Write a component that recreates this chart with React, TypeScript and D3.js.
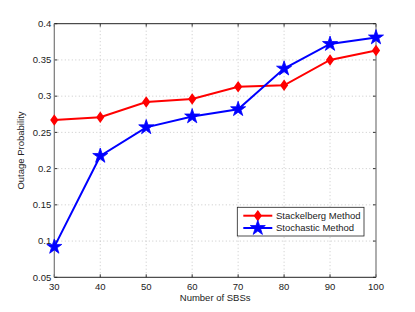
import * as d3 from "d3";

const xValues = [30, 40, 50, 60, 70, 80, 90, 100];
const stackelberg = [0.267, 0.271, 0.292, 0.296, 0.313, 0.315, 0.35, 0.363];
const stochastic = [0.092, 0.2175, 0.257, 0.272, 0.282, 0.338, 0.372, 0.381];
const xTicks = [30, 40, 50, 60, 70, 80, 90, 100];
const yTicks = [0.05, 0.1, 0.15, 0.2, 0.25, 0.3, 0.35, 0.4];
const seriesNames = ["Stackelberg Method", "Stochastic Method"];

export default function App() {
  const width = 415;
  const height = 312;
  const margin = { top: 23.7, right: 39, bottom: 34.7, left: 54.3 };
  const boundsWidth = width - margin.left - margin.right;
  const boundsHeight = height - margin.top - margin.bottom;

  const xScale = d3.scaleLinear().domain([30, 100]).range([0, boundsWidth]);
  const yScale = d3.scaleLinear().domain([0.05, 0.4]).range([boundsHeight, 0]);

  const line = d3
    .line<number>()
    .x((_, i) => xScale(xValues[i]))
    .y((d) => yScale(d));

  const star = d3.symbol(d3.symbolStar, 70)();
  const diamond = "M0,-4.5L3.2,0L0,4.5L-3.2,0Z";

  const font = "'Liberation Sans', Arial, sans-serif";
  const fs = 9.5;
  const legendX = 237.3 - margin.left;
  const legendY = 207.3 - margin.top;

  return (
    <div style={{ position: "absolute", left: 0, top: 0 }}>
      <svg width={width} height={height} style={{ display: "block", background: "#fff" }}>
        <g transform={`translate(${margin.left},${margin.top})`}>
          {/* grid */}
          {xTicks.slice(1, -1).map((t) => (
            <line key={"gx" + t} x1={xScale(t)} x2={xScale(t)} y1={0} y2={boundsHeight}
              stroke="#bbb" strokeWidth={0.8} strokeDasharray="1,2.5" />
          ))}
          {yTicks.slice(1, -1).map((t) => (
            <line key={"gy" + t} x1={0} x2={boundsWidth} y1={yScale(t)} y2={yScale(t)}
              stroke="#bbb" strokeWidth={0.8} strokeDasharray="1,2.5" />
          ))}
          {/* ticks inward */}
          {xTicks.map((t) => (
            <g key={"tx" + t}>
              <line x1={xScale(t)} x2={xScale(t)} y1={boundsHeight} y2={boundsHeight - 3} stroke="#333" />
              <line x1={xScale(t)} x2={xScale(t)} y1={0} y2={3} stroke="#333" />
              <text x={xScale(t)} y={boundsHeight + 12.5} textAnchor="middle" fontSize={fs}
                fontFamily={font} fill="#222">{t}</text>
            </g>
          ))}
          {yTicks.map((t) => (
            <g key={"ty" + t}>
              <line x1={0} x2={3} y1={yScale(t)} y2={yScale(t)} stroke="#333" />
              <line x1={boundsWidth} x2={boundsWidth - 3} y1={yScale(t)} y2={yScale(t)} stroke="#333" />
              <text x={-3} y={yScale(t) + 3.3} textAnchor="end" fontSize={fs}
                fontFamily={font} fill="#222">{String(t)}</text>
            </g>
          ))}
          {/* frame */}
          <line x1={0} x2={boundsWidth} y1={0} y2={0} stroke="#222" strokeWidth={1} />
          <line x1={0} x2={boundsWidth} y1={boundsHeight} y2={boundsHeight} stroke="#222" strokeWidth={1} />
          <line x1={0} x2={0} y1={0} y2={boundsHeight} stroke="#777" strokeWidth={1.2} />
          <line x1={boundsWidth} x2={boundsWidth} y1={0} y2={boundsHeight} stroke="#777" strokeWidth={1.2} />

          {/* series */}
          <path d={line(stackelberg) || ""} fill="none" stroke="#ff0000" strokeWidth={2} />
          {stackelberg.map((v, i) => (
            <path key={"r" + i} d={diamond} transform={`translate(${xScale(xValues[i])},${yScale(v)})`}
              fill="#ff0000" stroke="#ff0000" strokeWidth={1.5} />
          ))}
          <path d={line(stochastic) || ""} fill="none" stroke="#0000ff" strokeWidth={2} />
          {stochastic.map((v, i) => (
            <path key={"b" + i} d={star} transform={`translate(${xScale(xValues[i])},${yScale(v)})`}
              fill="#0000ff" stroke="#0000ff" strokeWidth={0.8} />
          ))}

          {/* legend */}
          <g transform={`translate(${legendX},${legendY})`}>
            <rect x={0} y={0} width={126.7} height={28.7} fill="#fff" stroke="#222" strokeWidth={0.8} />
            <line x1={6} x2={35} y1={8.4} y2={8.4} stroke="#ff0000" strokeWidth={2} />
            <path d={diamond} transform="translate(20.5,8.4)" fill="#ff0000" stroke="#ff0000" strokeWidth={1.5} />
            <text x={38.7} y={11.7} fontSize={fs} fontFamily={font} fill="#222">{seriesNames[0]}</text>
            <line x1={6} x2={35} y1={20.7} y2={20.7} stroke="#0000ff" strokeWidth={2} />
            <path d={star} transform="translate(20.5,20.7)" fill="#0000ff" stroke="#0000ff" strokeWidth={0.8} />
            <text x={38.7} y={24} fontSize={fs} fontFamily={font} fill="#222">{seriesNames[1]}</text>
          </g>

          {/* axis titles */}
          <text x={boundsWidth / 2} y={boundsHeight + 24} textAnchor="middle" fontSize={fs}
            fontFamily={font} fill="#222">Number of SBSs</text>
          <text transform={`translate(${24 - margin.left},${boundsHeight / 2}) rotate(-90)`} textAnchor="middle"
            fontSize={fs} fontFamily={font} fill="#222">Outage Probability</text>
        </g>
      </svg>
    </div>
  );
}
